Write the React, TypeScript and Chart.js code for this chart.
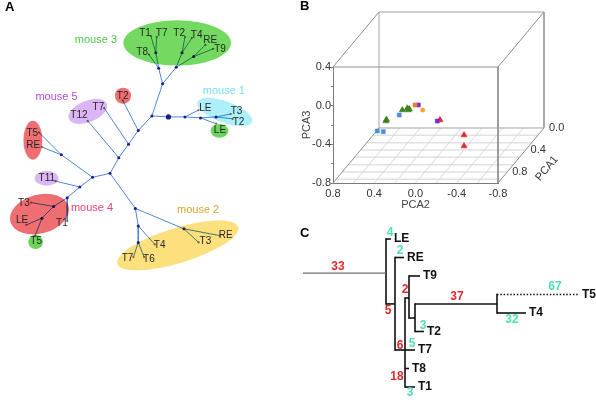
import React, { useEffect, useRef } from "react";
import { Chart, registerables } from "chart.js";

Chart.register(...registerables);

const FONT = "Arial, 'Liberation Sans', Helvetica, sans-serif";

/* ================= Panel A : unrooted tree ================= */
const treeNodeIds = ["R0", "a1", "a2", "a3", "a4", "a5", "a6", "b1", "b2", "b3", "b4", "c1", "c2", "c3", "c4", "c5", "c6", "c7", "c8", "c9", "c10", "d1", "d2", "d3", "d4"];
const treeNodeX = [152, 163, 159, 156, 177, 183, 195, 169, 186, 202, 218, 138, 128, 118, 109, 91, 59, 78, 65, 51, 39, 135, 138, 185, 138];
const treeNodeY = [115, 82, 66, 50, 65, 50, 54, 116, 116, 117, 116, 130, 144, 158, 174, 178, 155, 188, 199, 208, 220, 210, 228, 231, 245];

const treeLeafIds = ["m3T1", "m3T7", "m3T8", "m3T2", "m3T4", "m3RE", "m3T9", "m1LE", "m1T3", "m1T2", "gLE", "rT2", "m5T7", "m5T12", "rT5", "rRE", "pT11", "m4T3", "m4LE", "m4T1", "gT5", "m2RE", "m2T3", "m2T4", "m2T7", "m2T6"];
const treeLeafX = [151, 157, 149, 186, 193, 207, 215, 200, 233, 235, 218, 122, 103, 86, 36, 39, 53, 28, 23, 65, 32, 222, 200, 155, 133, 144];
const treeLeafY = [33, 34, 52, 34, 35, 42, 46, 109, 113, 118, 123, 99, 107, 120, 132, 147, 182, 204, 227, 223, 238, 238, 245, 247, 260, 260];

const treeEdges: [string, string][] = [
  ["R0", "a1"], ["a1", "a2"], ["a2", "a3"], ["a3", "m3T1"], ["a3", "m3T7"], ["a2", "m3T8"],
  ["a1", "a4"], ["a4", "a5"], ["a5", "m3T2"], ["a5", "m3T4"], ["a4", "a6"], ["a6", "m3RE"], ["a6", "m3T9"],
  ["R0", "b1"], ["b1", "b2"], ["b2", "m1LE"], ["b2", "b3"], ["b3", "b4"], ["b4", "m1T3"], ["b4", "m1T2"], ["b3", "gLE"],
  ["R0", "c1"], ["c1", "rT2"], ["c1", "c2"], ["c2", "m5T7"], ["c2", "c3"], ["c3", "m5T12"], ["c3", "c4"],
  ["c4", "c5"], ["c5", "c6"], ["c6", "rT5"], ["c6", "rRE"], ["c5", "c7"], ["c7", "pT11"], ["c7", "c8"],
  ["c8", "c9"], ["c8", "m4T1"], ["c9", "m4T3"], ["c9", "c10"], ["c10", "m4LE"], ["c10", "gT5"],
  ["c4", "d1"], ["d1", "d2"], ["d1", "d3"], ["d3", "m2RE"], ["d3", "m2T3"], ["d2", "m2T4"], ["d2", "d4"], ["d4", "m2T7"], ["d4", "m2T6"],
];

const leafLabelText = ["T1", "T7", "T2", "T4", "RE", "T9", "T8", "LE", "T3", "T2", "LE", "T2", "T7", "T12", "T5", "RE", "T11", "T3", "LE", "T1", "T5", "RE", "T3", "T4", "T7", "T6"];
const leafLabelX = [145, 162, 180, 198, 212, 222, 142, 207, 239, 241, 222, 122, 97, 77, 29, 30, 44, 20.5, 18.5, 59.5, 33, 228, 207, 160, 127, 149];
const leafLabelY = [30, 30, 30, 32, 37.5, 47, 50, 107, 110, 121, 130, 95, 106, 114, 132.5, 145, 179, 204.5, 222, 225, 244, 237.5, 244, 247.5, 261.5, 262.5];

const groupNames = ["mouse 3", "mouse 1", "mouse 5", "mouse 4", "mouse 2"];
const groupLabelX = [94.5, 226, 54, 90.5, 199.5];
const groupLabelY = [37, 89, 96, 210, 211.5];
const groupLabelColor = ["#52c64a", "#76e2f2", "#b04ce0", "#e8407c", "#d8a530"];

const ellipseCX = [178, 227, 221.5, 122.3, 86.2, 29.7, 43.8, 36.5, 32.5, 178.7];
const ellipseCY = [40, 111, 130.3, 94.3, 110.3, 140, 179.2, 215.8, 244.5, 248];
const ellipseRX = [55.3, 30, 9.2, 8.3, 21, 9.7, 12.2, 31, 7.6, 65];
const ellipseRY = [23.3, 11, 7, 8.3, 11, 20, 7.5, 20, 7.3, 18];
const ellipseRot = [0, 20, 0, 0, -22, 0, 0, -15, 0, -17];
const ellipseColor = ["#74d960", "#aef0fa", "#6cd45a", "#ef6e72", "#dab6f4", "#ef6e72", "#dab6f4", "#ef6e72", "#6cd45a", "#fce07e"];

/* ================= Panel B : 3D PCA ================= */
const pcaPC1 = [0.05, 0.1, 0.1, 0.1, 0.1, 0.1, 0.1, 0.1, 0.1, 0.1, 0.1, 0.1, 0.1, 0.1, 0.1, 0.4, 0.4];
const pcaPC2 = [0.012, 0.688, 0.683, 0.529, 0.481, 0.461, 0.471, 0.772, 0.714, 0.559, 0.406, 0.374, 0.19, 0.332, 0.164, -0.203, -0.203];
const pcaPC3 = [0.335, -0.671, -0.655, -0.557, -0.539, -0.547, -0.557, -0.774, -0.781, -0.609, -0.505, -0.505, -0.671, -0.557, -0.66, -0.645, -0.759];
const pcaGroup = [0, 0, 0, 0, 0, 0, 0, 1, 1, 1, 2, 3, 3, 5, 4, 4, 4];
const pcaGroupColor = ["#3f7f1c", "#4a8fdc", "#f07a38", "#7b2fcb", "#e3262f", "#f6a636"];
const pcaGroupShape = ["triangle", "rect", "rect", "rect", "triangle", "circle"];
const pcaGroupRadius = [3.6, 2.9, 2.9, 2.9, 3.6, 2.2];

const pc2Ticks = [0.8, 0.4, 0.0, -0.4, -0.8];
const pc1Ticks = [0.0, 0.4, 0.8];
const floorGridPC2 = [0.6, 0.4, 0.2, 0.0, -0.2, -0.4, -0.6];
const floorGridPC1 = [0.133, 0.267, 0.4, 0.533, 0.667, 0.8, 0.933];
const DEPTH_X = 0.446; // oblique projection (PCA2 units per PCA1 unit)
const DEPTH_Y = 0.569; // oblique projection (PCA3 units per PCA1 unit)

/* ================= Panel C : dendrogram ================= */
const dendroIds = ["root", "n0", "n1", "n2", "n3", "n4", "n5", "LE", "RE", "T9", "T5", "T4", "T2", "T7", "T8", "T1"];
const dendroParent = [null, "root", "n0", "n1", "n2", "n3", "n4", "n0", "n1", "n3", "n5", "n5", "n4", "n2", "n2", "n2"];
const dendroX = [0, 83, 92, 102, 106, 112, 194, 88, 101, 117, 276, 223, 121, 112, 106, 112];
const dendroRow = [1.84, 1.84, 3.51, 6, 3.19, 4.27, 3.51, 0, 1, 2, 3, 4, 5, 6, 7, 8];
const dottedBranch = ["T5"];
const greyBranch = ["n0"];

const mutationText = ["33", "4", "2", "5", "2", "37", "67", "32", "3", "6", "5", "18", "3"];
const mutationX = [35, 87, 97, 85, 102, 154, 252, 209, 120, 97, 109, 94, 107];
const mutationRow = [1.51, -0.32, 0.65, 3.89, 2.76, 3.14, 2.59, 4.38, 4.7, 5.78, 5.68, 7.46, 8.32];
const mutationKind = ["r", "c", "c", "r", "r", "r", "c", "c", "c", "r", "c", "r", "c"];
const mutationColor: Record<string, string> = { r: "#e8262e", c: "#4fdfb8" };

/* ================= helpers ================= */
const hiddenScale = (min: number, max: number, reverse = false) => ({
  type: "linear" as const,
  min,
  max,
  reverse,
  display: false,
});

const baseOptions = {
  responsive: false,
  animation: false as const,
  events: [] as any[],
  plugins: { legend: { display: false }, tooltip: { enabled: false } },
  layout: { padding: 0 },
};

const lineSet = (data: { x: number; y: number }[], color: string, width: number, extra: any = {}) => ({
  data,
  showLine: true,
  borderColor: color,
  borderWidth: width,
  pointRadius: 0,
  pointHoverRadius: 0,
  clip: false,
  ...extra,
});

/* ---------- chart A ---------- */
function makeTree(canvas: HTMLCanvasElement) {
  const pos = (id: string) => {
    const i = treeNodeIds.indexOf(id);
    if (i >= 0) return { x: treeNodeX[i], y: treeNodeY[i] };
    const j = treeLeafIds.indexOf(id);
    return { x: treeLeafX[j], y: treeLeafY[j] };
  };
  const edgeSets = treeEdges.map(([a, b]) => lineSet([pos(a), pos(b)], "#4b88d8", 1));
  const nodeSet = {
    data: treeNodeIds.map((_, i) => ({ x: treeNodeX[i], y: treeNodeY[i] })),
    pointRadius: treeNodeIds.map((id) => (id === "b1" ? 2.6 : 1.5)),
    backgroundColor: "#1d1d8f",
    borderWidth: 0,
    clip: false,
  };
  const leafSet = {
    data: treeLeafX.map((x, i) => ({ x, y: treeLeafY[i] })),
    pointRadius: 1.1,
    backgroundColor: "#86703a",
    borderWidth: 0,
    clip: false,
  };
  const overlay = {
    id: "treeOverlay",
    afterDatasetsDraw(chart: any) {
      const { ctx, scales } = chart;
      const X = scales.x, Y = scales.y;
      const kx = Math.abs(X.getPixelForValue(1) - X.getPixelForValue(0));
      const ky = Math.abs(Y.getPixelForValue(1) - Y.getPixelForValue(0));
      ctx.save();
      ctx.globalCompositeOperation = "multiply";
      ellipseCX.forEach((cx, i) => {
        ctx.beginPath();
        ctx.ellipse(X.getPixelForValue(cx), Y.getPixelForValue(ellipseCY[i]), ellipseRX[i] * kx, ellipseRY[i] * ky, (ellipseRot[i] * Math.PI) / 180, 0, Math.PI * 2);
        ctx.fillStyle = ellipseColor[i];
        ctx.fill();
      });
      ctx.restore();
      ctx.save();
      ctx.textAlign = "center";
      ctx.textBaseline = "middle";
      ctx.font = `10px ${FONT}`;
      ctx.fillStyle = "#262626";
      leafLabelText.forEach((t, i) => ctx.fillText(t, X.getPixelForValue(leafLabelX[i]), Y.getPixelForValue(leafLabelY[i])));
      ctx.font = `11px ${FONT}`;
      groupNames.forEach((t, i) => {
        ctx.fillStyle = groupLabelColor[i];
        ctx.fillText(t, X.getPixelForValue(groupLabelX[i]), Y.getPixelForValue(groupLabelY[i]));
      });
      ctx.fillStyle = "#000";
      ctx.textAlign = "left";
      ctx.textBaseline = "alphabetic";
      ctx.font = `bold 13px ${FONT}`;
      ctx.fillText("A", 5, 11);
      ctx.restore();
    },
  };
  return new Chart(canvas, {
    type: "scatter",
    data: { datasets: [nodeSet, leafSet, ...edgeSets] as any },
    options: { ...baseOptions, scales: { x: hiddenScale(0, 295), y: hiddenScale(0, 300, true) } } as any,
    plugins: [overlay],
  });
}

/* ---------- chart B ---------- */
const project = (p1: number, p2: number, p3: number) => ({
  x: p2 - (1 - p1) * DEPTH_X,
  y: p3 + (1 - p1) * DEPTH_Y,
});

function makePca(canvas: HTMLCanvasElement) {
  const pointSets = pcaGroupColor.map((color, g) => ({
    data: pcaGroup.map((gg, i) => (gg === g ? project(pcaPC1[i], pcaPC2[i], pcaPC3[i]) : null)).filter(Boolean),
    pointStyle: pcaGroupShape[g],
    pointRadius: pcaGroupRadius[g],
    backgroundColor: color,
    borderColor: color,
    borderWidth: 0.5,
    clip: false,
  }));
  const P = (p1: number, p2: number, p3: number) => project(p1, p2, p3);
  const boxColor = "#8f8f8f";
  const boxSets = [
    // back face
    lineSet([P(0, 0.8, 0.4), P(0, -0.8, 0.4), P(0, -0.8, -0.8), P(0, 0.8, -0.8), P(0, 0.8, 0.4)], "#a0a0a0", 1),
    // front face top / right
    lineSet([P(1, 0.8, 0.4), P(1, -0.8, 0.4), P(1, -0.8, -0.8)], boxColor, 1),
    // connectors
    lineSet([P(1, 0.8, 0.4), P(0, 0.8, 0.4)], boxColor, 1),
    lineSet([P(1, -0.8, 0.4), P(0, -0.8, 0.4)], boxColor, 1),
    lineSet([P(1, -0.8, -0.8), P(0, -0.8, -0.8)], boxColor, 1),
    lineSet([P(1, 0.8, -0.8), P(0, 0.8, -0.8)], boxColor, 1),
  ];
  const gridSets = [
    ...floorGridPC2.map((v) => lineSet([P(1, v, -0.8), P(0, v, -0.8)], "#d9d9d9", 1)),
    ...floorGridPC1.map((v) => lineSet([P(v, 0.8, -0.8), P(v, -0.8, -0.8)], "#e2e2e2", 1.6)),
  ];
  const overlay = {
    id: "pcaOverlay",
    afterDraw(chart: any) {
      const { ctx, scales } = chart;
      const X = scales.x, Y = scales.y;
      ctx.save();
      ctx.font = `11px ${FONT}`;
      ctx.fillStyle = "#333";
      ctx.textAlign = "left";
      ctx.textBaseline = "middle";
      pc1Ticks.forEach((v) => {
        const p = P(v, -0.8, -0.8);
        ctx.fillText(v.toFixed(1), X.getPixelForValue(p.x) + 5, Y.getPixelForValue(p.y));
      });
      const a = P(0.5, -0.8, -0.8);
      ctx.translate(X.getPixelForValue(a.x) + 26, Y.getPixelForValue(a.y) + 13);
      ctx.rotate((-50 * Math.PI) / 180);
      ctx.textAlign = "center";
      ctx.fillText("PCA1", 0, 0);
      ctx.restore();
      ctx.save();
      ctx.fillStyle = "#000";
      ctx.font = `bold 13px ${FONT}`;
      ctx.textAlign = "left";
      ctx.textBaseline = "alphabetic";
      ctx.fillText("B", 0, 10);
      ctx.restore();
    },
  };
  const tickFont = { family: FONT, size: 11 };
  return new Chart(canvas, {
    type: "scatter",
    data: { datasets: [...pointSets, ...boxSets, ...gridSets] as any },
    options: {
      ...baseOptions,
      layout: { padding: { top: 67, right: 98, left: 0, bottom: 0 } },
      scales: {
        x: {
          type: "linear",
          min: -0.8,
          max: 0.8,
          reverse: true,
          afterFit: (s: any) => { s.height = 37; },
          afterBuildTicks: (s: any) => { s.ticks = pc2Ticks.map((v) => ({ value: v })); },
          ticks: { font: tickFont, color: "#333", padding: 4, maxRotation: 0, autoSkip: false, callback: (v: any) => Number(v).toFixed(1) },
          grid: { display: true, drawOnChartArea: false, drawTicks: false },
          border: { display: true, color: "#7a7a7a", width: 1 },
          title: { display: true, text: "PCA2", font: tickFont, color: "#444", padding: { top: 0, bottom: 8 } },
        },
        y: {
          type: "linear",
          min: -0.8,
          max: 0.4,
          afterFit: (s: any) => { s.width = 33; },
          ticks: {
            stepSize: 0.2,
            font: tickFont,
            color: "#333",
            padding: 0,
            autoSkip: false,
            callback: (v: any) => (Math.round(Number(v) * 10) % 4 === 0 ? Number(v).toFixed(1) : ""),
          },
          grid: { display: true, drawOnChartArea: false, drawTicks: true, tickLength: 2, color: "#7a7a7a", tickColor: "#7a7a7a" },
          border: { display: true, color: "#7a7a7a", width: 1 },
          title: { display: true, text: "PCA3", font: tickFont, color: "#444", padding: 0 },
        },
      },
    } as any,
    plugins: [overlay],
  });
}

/* ---------- chart C ---------- */
function makeDendro(canvas: HTMLCanvasElement) {
  const idx = (id: string) => dendroIds.indexOf(id);
  const sets: any[] = [];
  dendroIds.forEach((id, i) => {
    const par = dendroParent[i];
    if (par) {
      const pi = idx(par);
      const dotted = dottedBranch.includes(id);
      const grey = greyBranch.includes(id);
      sets.push(
        lineSet(
          [{ x: dendroX[pi], y: dendroRow[i] }, { x: dendroX[i], y: dendroRow[i] }],
          grey ? "#6e6e6e" : "#111",
          grey ? 1.3 : dotted ? 1.4 : 1.6,
          dotted ? { borderDash: [1.5, 1.8] } : {}
        )
      );
    }
    const kids = dendroIds.map((_, k) => k).filter((k) => dendroParent[k] === id);
    if (kids.length && id !== "root") {
      const rows = kids.map((k) => dendroRow[k]);
      sets.push(lineSet([{ x: dendroX[i], y: Math.min(...rows) }, { x: dendroX[i], y: Math.max(...rows) }], "#111", 1.6, { borderCapStyle: "square" }));
    }
  });
  const overlay = {
    id: "dendroOverlay",
    afterDatasetsDraw(chart: any) {
      const { ctx, scales } = chart;
      const X = scales.x, Y = scales.y;
      ctx.save();
      ctx.textBaseline = "middle";
      ctx.font = `bold 12px ${FONT}`;
      ctx.fillStyle = "#111";
      ctx.textAlign = "left";
      dendroIds.forEach((id, i) => {
        const isLeaf = !dendroParent.includes(id);
        if (isLeaf) ctx.fillText(id, X.getPixelForValue(dendroX[i]) + 3, Y.getPixelForValue(dendroRow[i]));
      });
      ctx.textAlign = "center";
      mutationText.forEach((t, i) => {
        ctx.fillStyle = mutationColor[mutationKind[i]];
        ctx.fillText(t, X.getPixelForValue(mutationX[i]), Y.getPixelForValue(mutationRow[i]));
      });
      ctx.fillStyle = "#000";
      ctx.font = `bold 13px ${FONT}`;
      ctx.textAlign = "left";
      ctx.textBaseline = "alphabetic";
      ctx.fillText("C", 5, 15);
      ctx.restore();
    },
  };
  return new Chart(canvas, {
    type: "scatter",
    data: { datasets: sets },
    options: { ...baseOptions, scales: { x: hiddenScale(-8, 293), y: hiddenScale(-0.9189, 8.8108, true) } } as any,
    plugins: [overlay],
  });
}

function ChartCanvas(props: { make: (c: HTMLCanvasElement) => Chart; left: number; top: number; width: number; height: number }) {
  const ref = useRef<HTMLCanvasElement>(null);
  useEffect(() => {
    const chart = props.make(ref.current!);
    return () => chart.destroy();
  }, []);
  return (
    <canvas
      ref={ref}
      width={props.width}
      height={props.height}
      style={{ position: "absolute", left: props.left, top: props.top, width: props.width, height: props.height }}
    />
  );
}

export default function App() {
  return (
    <div style={{ position: "fixed", left: 0, top: 0, width: 596, height: 402, background: "#fff", overflow: "hidden" }}>
      <ChartCanvas make={makeTree} left={0} top={0} width={295} height={300} />
      <ChartCanvas make={makePca} left={300} top={0} width={296} height={220} />
      <ChartCanvas make={makeDendro} left={295} top={222} width={301} height={180} />
    </div>
  );
}
